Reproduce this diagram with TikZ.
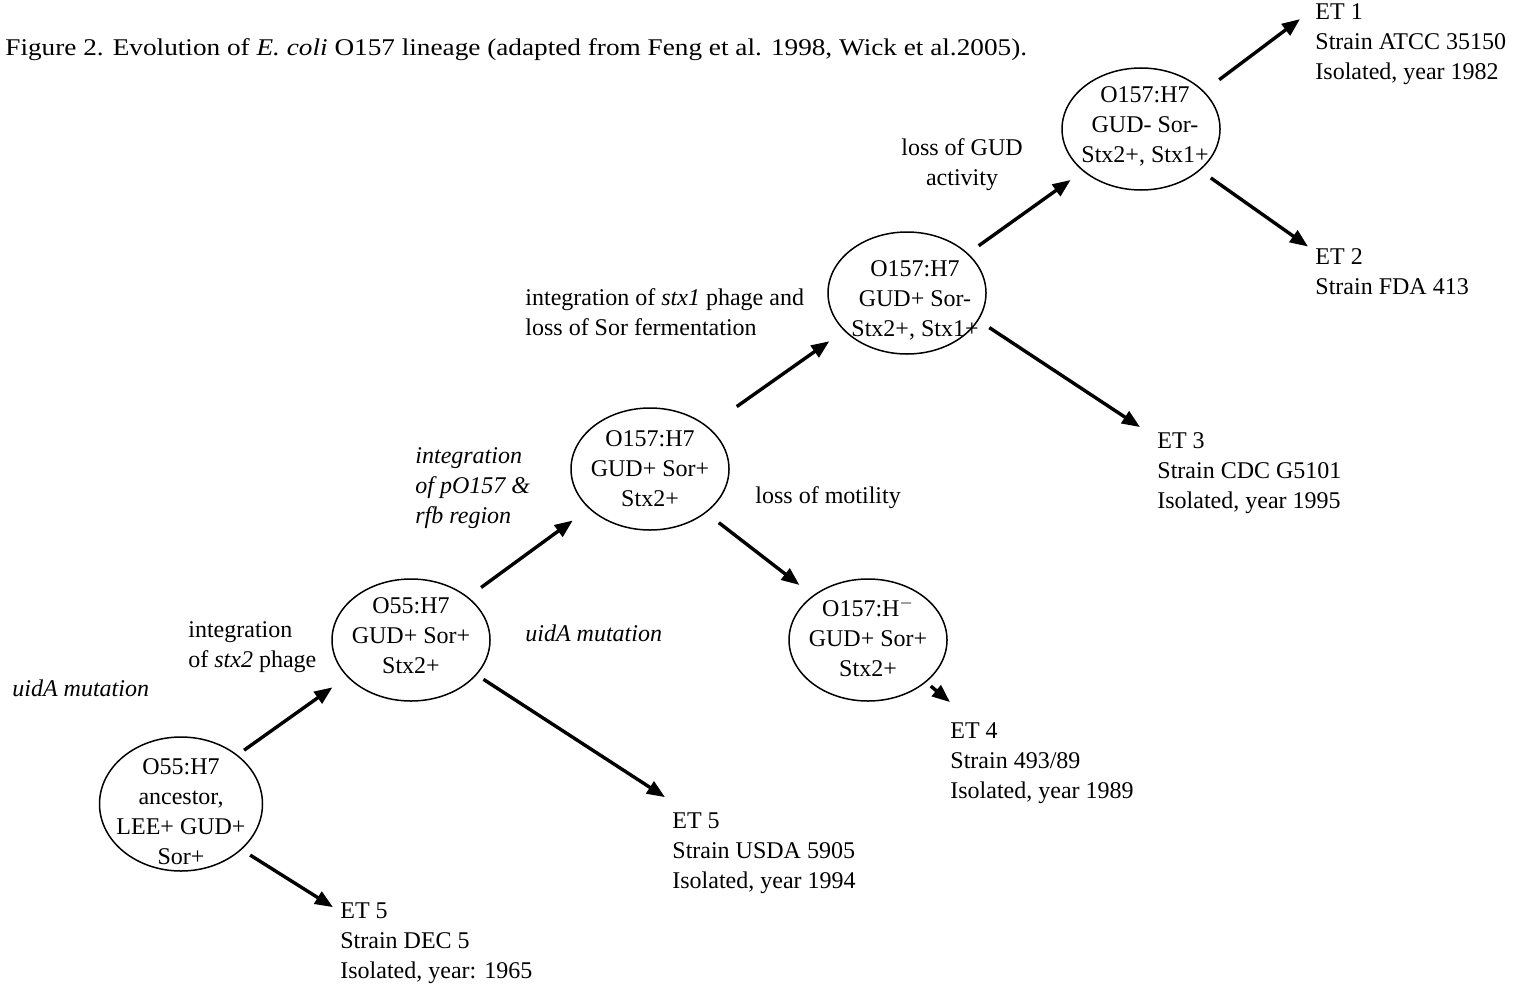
\documentclass[tikz,border=0pt]{standalone}
\usepackage{graphicx}
\usepackage{fontspec}
\setmainfont{Liberation Serif}
\usetikzlibrary{shapes.geometric, arrows.meta}

\begin{document}
\begin{tikzpicture}[
x=0.5pt, y=-0.5pt,
every node/.style={font=\fontsize{12}{15}\selectfont, inner sep=0pt},
strain/.style={
    ellipse,
    draw=black,
    line width=0.75pt,
    minimum width=79pt,
    minimum height=61pt
},
note/.style={align=left, anchor=west},
italic note/.style={note, font=\fontsize{12}{15}\selectfont\itshape},
arrow/.style={
    -{Triangle[length=9pt, width=7pt]},
    line width=1.7pt
}
]
\useasboundingbox (0,0) rectangle (1534,990);

\node (title) [anchor=west] at (5,50) {\scalebox{1.135}[1]{Figure 2. Evolution of \textit{E. coli} O157 lineage (adapted from Feng et al. 1998, Wick et al.2005).}};

% strains
\node (ancestor) [strain, minimum width=81.5pt, minimum height=67pt,
  label={[align=center, yshift=-4pt]center:{O55:H7\\ancestor,\\LEE+ GUD+\\Sor+}}] at (181,804) {};
\node (o55) [strain,
  label={[align=center, yshift=2pt]center:{O55:H7\\GUD+ Sor+\\Stx2+}}] at (411,640) {};
\node (o157a) [strain,
  label={[align=center]center:{O157:H7\\GUD+ Sor+\\Stx2+}}] at (650,469) {};
\node (o157hm) [strain,
  label={[align=center, yshift=1.5pt]center:{O157:H$^{-}$\\GUD+ Sor+\\Stx2+}}] at (868,640) {};
\node (o157b) [strain,
  label={[align=center, yshift=-3.5pt, xshift=4pt]center:{O157:H7\\GUD+ Sor-\\Stx2+, Stx1+}}] at (907,293) {};
\node (o157c) [strain,
  label={[align=center, yshift=1.5pt, xshift=2pt]center:{O157:H7\\GUD- Sor-\\Stx2+, Stx1+}}] at (1141,129) {};

% electrophoretic types
\node (et1) [note] at (1315,44) {ET 1\\Strain ATCC 35150\\Isolated, year 1982};
\node (et2) [note] at (1315,272) {ET 2\\Strain FDA 413};
\node (et3) [note] at (1157,473) {ET 3\\Strain CDC G5101\\Isolated, year 1995};
\node (et4) [note] at (950,763) {ET 4\\Strain 493/89\\Isolated, year 1989};
\node (et5b) [note] at (672,853) {ET 5\\Strain USDA 5905\\Isolated, year 1994};
\node (et5a) [note] at (340,943) {ET 5\\Strain DEC 5\\Isolated, year: 1965};

% events
\node (uida1) [italic note] at (12,688) {uidA mutation};
\node (stx2) [note] at (188,647) {integration\\of \textit{stx2} phage};
\node (po157) [italic note] at (415,488) {integration\\of pO157 \&\\rfb region};
\node (uida2) [italic note] at (525,633) {uidA mutation};
\node (motil) [note] at (755,498) {loss of motility};
\node (stx1) [note] at (525,312) {integration of \textit{stx1} phage and\\loss of Sor fermentation};
\node (gud) [align=center] at (962,165) {loss of GUD\\activity};

\draw [arrow, shorten <=4pt, shorten >=9pt] (ancestor.41) -- (o55.210);
\draw [arrow, shorten <=5pt] (ancestor.-37) -- ([shift={(-7,5)}]et5a.north west);
\draw [arrow, shorten <=8pt, shorten >=10pt] (o55.37) -- (o157a.213);
\draw [arrow, shorten <=4pt] (o55.-28) -- ([shift={(-7,-15)}]et5b.north west);
\draw [arrow, shorten <=8pt, shorten >=8.5pt] (o157a.-38) -- (o157hm.141);
\draw [arrow, shorten <=17.5pt, shorten >=9pt] (o157a.36) -- (o157b.211);
\draw [arrow, shorten <=3pt] (o157hm.-36) -- ([shift={(0,-20)}]et4.north west);
\draw [arrow, shorten <=6.5pt, shorten >=7.5pt] (o157b.33) -- (o157c.216);
\draw [arrow, shorten <=6.5pt] (o157b.-21) -- ([shift={(-17,-5)}]et3.north west);
\draw [arrow, shorten <=9.5pt] (o157c.31) -- ([shift={(-15,16)}]et1.north west);
\draw [arrow, shorten <=6.5pt] (o157c.-35) -- ([shift={(-7,-2)}]et2.north west);

\end{tikzpicture}
\end{document}
